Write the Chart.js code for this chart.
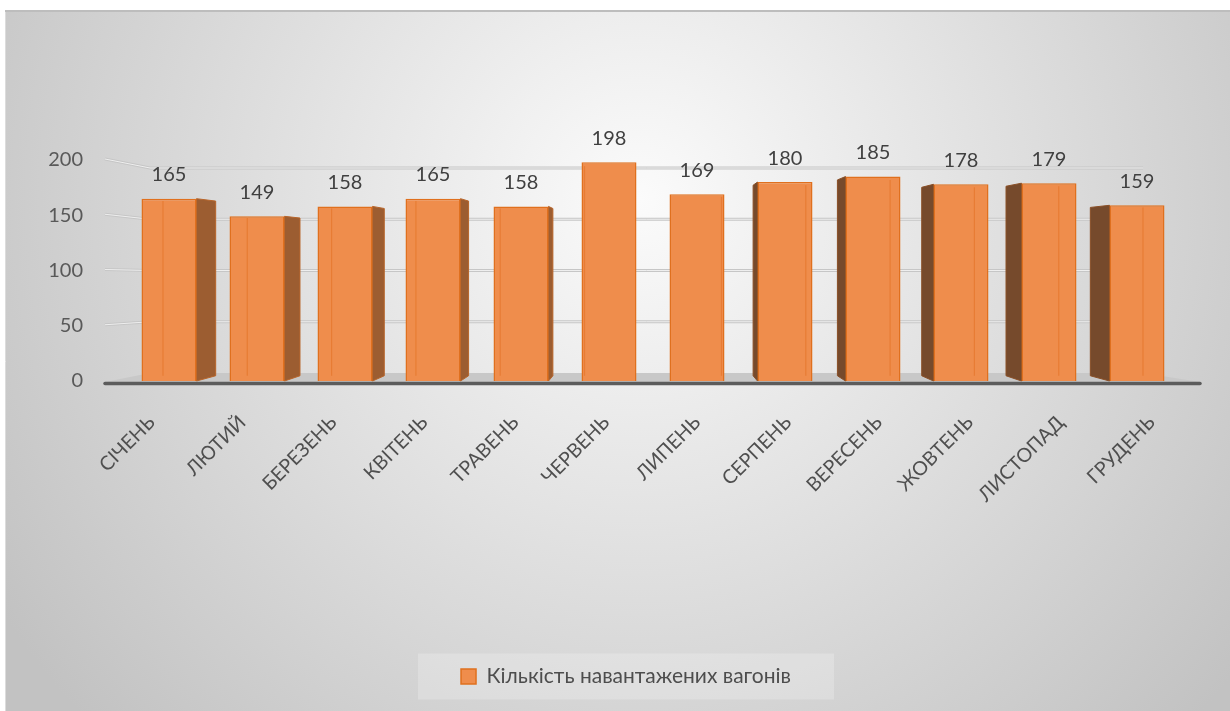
<!DOCTYPE html>
<html>
<head>
<meta charset="utf-8">
<script src="https://cdn.jsdelivr.net/npm/chart.js@4.4.1/dist/chart.umd.min.js"></script>
<style>
  html, body { margin: 0; padding: 0; background: #fff; overflow: hidden; }
  #wrap { width: 1230px; height: 711px; position: relative; }
</style>
</head>
<body>
<div id="wrap"><canvas id="c" width="1230" height="711"></canvas></div>
<script>
// Monthly loaded wagons
const months = ['СІЧЕНЬ', 'ЛЮТИЙ', 'БЕРЕЗЕНЬ', 'КВІТЕНЬ', 'ТРАВЕНЬ', 'ЧЕРВЕНЬ', 'ЛИПЕНЬ', 'СЕРПЕНЬ', 'ВЕРЕСЕНЬ', 'ЖОВТЕНЬ', 'ЛИСТОПАД', 'ГРУДЕНЬ'];
const wagons = [165, 149, 158, 165, 158, 198, 169, 180, 185, 178, 179, 159];
const yTicks = [0, 50, 100, 150, 200];
const seriesName = 'Кількість навантажених вагонів';

const FONT = 'Lato, "Open Sans", "DejaVu Sans", sans-serif';
const FRONT = '#EF8D4C';
const EDGE = '#E0701E';
const PAD_BOTTOM = 14;

// perspective helpers: depth shrink toward a vanishing point between the first and last bar
const DEPTH = 0.958;
function vanish(chart) {
  const bars = chart.getDatasetMeta(0).data;
  return { x: (bars[0].x + bars[bars.length - 1].x) / 2, y: chart.chartArea.top + 96 };
}

// legend sits centred under the plotted columns rather than the whole canvas
const legendShift = {
  id: 'legendShift',
  afterLayout(chart) {
    const lg = chart.legend;
    const target = (chart.chartArea.left + chart.chartArea.right) / 2 - 27;
    const shift = target - (lg.left + lg.right) / 2;
    lg.left += shift;
    lg.right += shift;
  }
};

// page frame, radial backdrop, legend panel, floor and back-wall grid
const backdrop = {
  id: 'backdrop',
  beforeDraw(chart) {
    const { ctx, width, height, chartArea: a, scales } = chart;
    ctx.save();
    ctx.fillStyle = '#fff';
    ctx.fillRect(0, 0, width, height);
    const g = ctx.createRadialGradient(640, 200, 0, 640, 200, 760);
    g.addColorStop(0, '#fbfbfb');
    g.addColorStop(1, '#c2c2c2');
    ctx.fillStyle = g;
    ctx.fillRect(6, 12, width - 6, height - 12);
    ctx.strokeStyle = '#bdbdbd';
    ctx.lineWidth = 2;
    ctx.beginPath(); ctx.moveTo(5, 11); ctx.lineTo(width, 11); ctx.stroke();
    ctx.strokeStyle = '#dcdcdc';
    ctx.lineWidth = 1;
    ctx.beginPath(); ctx.moveTo(5.5, 12); ctx.lineTo(5.5, height); ctx.stroke();

    // legend panel
    const lg = chart.legend;
    const cx = (lg.left + lg.right) / 2;
    const cy = (lg.top + lg.bottom) / 2;
    ctx.fillStyle = 'rgba(255,255,255,0.22)';
    ctx.fillRect(cx - 208, cy - 23, 416, 46);

    // floor
    const y = scales.y;
    const sideL = a.left - 20, backL = a.left + 25, backR = a.right - 38, sideR = a.right + 19;
    const k = 0.9276, c = a.top + 110.7;
    const back = v => c + (y.getPixelForValue(v) - c) * k;
    const base = y.getPixelForValue(0);
    ctx.fillStyle = '#c8c8c8';
    ctx.beginPath();
    ctx.moveTo(sideL, base + 1);
    ctx.lineTo(backL, back(0));
    ctx.lineTo(backR, back(0));
    ctx.lineTo(sideR, base + 1);
    ctx.closePath();
    ctx.fill();

    // grid lines on side wall and back wall
    yTicks.forEach(v => {
      if (v === 0) return;
      const ya = y.getPixelForValue(v) - 1, yb = back(v);
      ctx.beginPath();
      ctx.moveTo(sideL, ya);
      ctx.lineTo(backL, yb);
      ctx.lineTo(backR, yb);
      ctx.strokeStyle = '#c6c6c6'; ctx.lineWidth = 3; ctx.stroke();
      ctx.strokeStyle = '#eeeeee'; ctx.lineWidth = 1; ctx.stroke();
    });

    // front floor edge
    ctx.strokeStyle = '#5c5c5c';
    ctx.lineWidth = 3.5;
    ctx.lineCap = 'round';
    ctx.beginPath(); ctx.moveTo(sideL, base + 2.5); ctx.lineTo(sideR, base + 2.5); ctx.stroke();
    ctx.restore();

    // spread category labels along the front floor edge
    const xs = scales.x;
    const items = xs.getLabelItems(a);
    if (!items._spread) {
      const V = vanish(chart).x;
      items.forEach(it => {
        const t = it.options.translation;
        t[0] = V + (t[0] - V) * 1.033 - 1;
      });
      items._spread = true;
    }
  }
};

// side faces of the 3D columns
const columnSides = {
  id: 'columnSides',
  beforeDatasetsDraw(chart) {
    const { ctx } = chart;
    const V = vanish(chart);
    ctx.save();
    chart.getDatasetMeta(0).data.forEach(bar => {
      const left = bar.x - bar.width / 2, right = bar.x + bar.width / 2;
      const onLeft = bar.x < V.x;
      const xe = onLeft ? right : left;
      const xb = V.x + (xe - V.x) * DEPTH;
      if (Math.abs(xb - xe) < 1) return;
      const yt = V.y + (bar.y - V.y) * DEPTH, yl = V.y + (bar.base - V.y) * DEPTH;
      ctx.fillStyle = onLeft ? '#9c5d31' : '#764a2c';
      ctx.strokeStyle = onLeft ? '#b8652a' : '#8a4f26';
      ctx.lineWidth = 1;
      ctx.beginPath();
      ctx.moveTo(xe, bar.y);
      ctx.lineTo(xb, yt);
      ctx.lineTo(xb, yl);
      ctx.lineTo(xe, bar.base);
      ctx.closePath();
      ctx.fill();
      ctx.stroke();
    });
    ctx.restore();
  },
  afterDatasetsDraw(chart) {
    const { ctx } = chart;
    const V = vanish(chart);
    ctx.save();
    chart.getDatasetMeta(0).data.forEach((bar, i) => {
      const left = bar.x - bar.width / 2, right = bar.x + bar.width / 2;
      const inner = bar.x < V.x ? left : right;
      const xb = V.x + (inner - V.x) * DEPTH;
      const yt = V.y + (bar.y - V.y) * DEPTH, yl = V.y + (bar.base - V.y) * DEPTH;
      if (Math.abs(xb - inner) > 2) {
        // back edge showing through the translucent column
        ctx.strokeStyle = 'rgba(226,112,32,0.55)';
        ctx.lineWidth = 1.2;
        ctx.beginPath(); ctx.moveTo(xb, yt); ctx.lineTo(xb, yl); ctx.stroke();
      }
      // value label
      ctx.fillStyle = '#404040';
      ctx.font = '20px ' + FONT;
      ctx.textAlign = 'center';
      ctx.textBaseline = 'middle';
      ctx.fillText(String(wagons[i]), bar.x, bar.y - 24);
    });
    ctx.restore();
  }
};

new Chart(document.getElementById('c'), {
  type: 'bar',
  data: {
    labels: months,
    datasets: [{
      label: seriesName,
      data: wagons,
      backgroundColor: FRONT,
      borderColor: EDGE,
      borderWidth: 1.5,
      categoryPercentage: 1,
      barPercentage: 0.625
    }]
  },
  options: {
    responsive: false,
    devicePixelRatio: 1,
    animation: false,
    layout: { padding: { left: 30, right: 49, top: 160, bottom: PAD_BOTTOM } },
    plugins: {
      tooltip: { enabled: false },
      legend: {
        position: 'bottom',
        labels: {
          font: { family: FONT, size: 21 },
          color: '#4d4d4d',
          boxWidth: 15,
          boxHeight: 15,
          padding: 10
        }
      }
    },
    scales: {
      x: {
        grid: { display: false, drawTicks: false },
        border: { display: false },
        ticks: {
          autoSkip: false,
          maxRotation: 45,
          minRotation: 45,
          padding: 30,
          font: { family: FONT, size: 19.5 },
          color: '#4f4f4f'
        },
        afterFit(scale) {
          const lg = scale.chart.legend;
          const lh = lg ? lg.height : 45;
          scale.height = 711 - PAD_BOTTOM - lh - 381;
        }
      },
      y: {
        min: 0,
        max: 200,
        grid: { display: false, drawTicks: false },
        border: { display: false },
        ticks: {
          stepSize: 50,
          padding: 42,
          font: { family: FONT, size: 20 },
          color: '#595959'
        },
        afterFit(scale) { scale.width = 95; }
      }
    }
  },
  plugins: [legendShift, backdrop, columnSides]
});
</script>
</body>
</html>
